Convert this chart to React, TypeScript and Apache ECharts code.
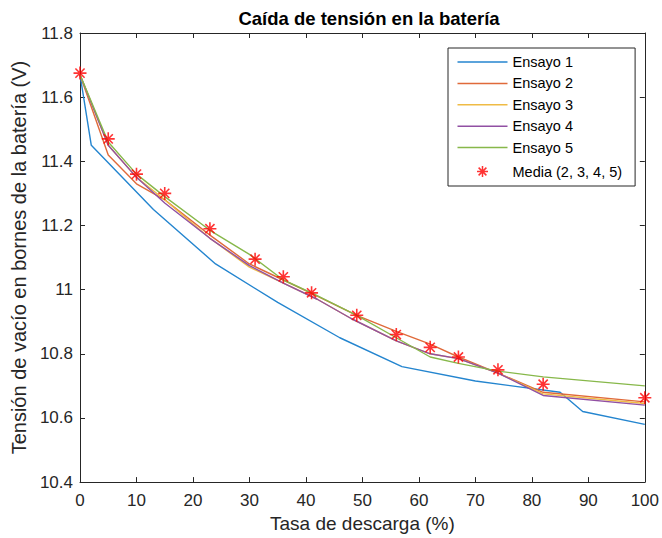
import React, { useEffect, useRef } from "react";
import * as echarts from "echarts";

const ensayo1: [number, number][] = [
  [0, 11.67], [2, 11.45], [13, 11.25], [24, 11.08], [35, 10.96], [46, 10.85],
  [57, 10.76], [70, 10.715], [85, 10.68], [89, 10.62], [100, 10.58],
];
const ensayo2: [number, number][] = [
  [0, 11.67], [5, 11.42], [10, 11.33], [15, 11.28], [23, 11.17], [30, 11.08],
  [36, 11.03], [42, 10.98], [49, 10.92], [56, 10.87], [62, 10.83], [67, 10.79],
  [74, 10.74], [82, 10.68], [100, 10.65],
];
const ensayo3: [number, number][] = [
  [0, 11.67], [5, 11.45], [10, 11.35], [15, 11.28], [23, 11.16], [30, 11.07],
  [36, 11.02], [42, 10.97], [48, 10.91], [56, 10.84], [62, 10.8], [67, 10.785],
  [74, 10.74], [82, 10.675], [100, 10.645],
];
const ensayo4: [number, number][] = [
  [0, 11.67], [5, 11.45], [10, 11.35], [15, 11.27], [23, 11.16], [30, 11.075],
  [36, 11.02], [42, 10.97], [48, 10.91], [56, 10.84], [62, 10.8], [67, 10.785],
  [74, 10.74], [82, 10.67], [100, 10.64],
];
const ensayo5: [number, number][] = [
  [0, 11.67], [5, 11.46], [10, 11.36], [15, 11.29], [23, 11.185], [30, 11.11],
  [36, 11.03], [41, 10.99], [49, 10.92], [56, 10.85], [62, 10.79], [67, 10.77],
  [74, 10.746], [82, 10.728], [100, 10.7],
];
const media: [number, number][] = [
  [0, 11.675], [5, 11.47], [10, 11.36], [15, 11.3], [23, 11.19], [31, 11.095],
  [36, 11.04], [41, 10.99], [49, 10.92], [56, 10.86], [62, 10.82], [67, 10.79],
  [74, 10.75], [82, 10.705], [100, 10.663],
];

const seriesNames = ["Ensayo 1", "Ensayo 2", "Ensayo 3", "Ensayo 4", "Ensayo 5"];
const seriesColors = ["#2485cf", "#e06a3a", "#efbb45", "#9150a3", "#87b84a"];
const seriesData = [ensayo1, ensayo2, ensayo3, ensayo4, ensayo5];
const mediaName = "Media (2, 3, 4, 5)";

const asterisk =
  "path://M0,-10L0,10M-10,0L10,0M-7.07,-7.07L7.07,7.07M-7.07,7.07L7.07,-7.07";
const asteriskLegend =
  "path://M-25,-7.5M25,7.5M0,-5.5L0,5.5M-5.5,0L5.5,0M-3.9,-3.9L3.9,3.9M-3.9,3.9L3.9,-3.9";
const lineLegend = "path://M0,0L50,0L50,1.5L0,1.5Z";

const FONT = "'Liberation Sans', Arial, Helvetica, sans-serif";
const TXT = "#262626";

export default function App() {
  const ref = useRef<HTMLDivElement>(null);
  useEffect(() => {
    if (!ref.current) return;
    const chart = echarts.init(ref.current, undefined, { renderer: "svg" });
    const axisCommon = {
      type: "value" as const,
      axisLine: { show: true, onZero: false, lineStyle: { color: TXT, width: 1 } },
      axisTick: { show: true, inside: true, length: 5, lineStyle: { color: TXT } },
      splitLine: { show: false },
    };
    const fmtY = (v: number) => String(parseFloat(v.toFixed(1)));
    chart.setOption({
      animation: false,
      backgroundColor: "#ffffff",
      textStyle: { fontFamily: FONT },
      title: {
        text: "Caída de tensión en la batería",
        left: 364,
        textAlign: "center",
        top: 4,
        textStyle: { fontFamily: FONT, fontSize: 18.5, fontWeight: "bold", color: "#000" },
      },
      grid: { left: 80, right: 14, top: 33, bottom: 55, containLabel: false },
      xAxis: [
        {
          ...axisCommon,
          position: "bottom",
          min: 0,
          max: 100,
          interval: 10,
          name: "Tasa de descarga (%)",
          nameLocation: "middle",
          nameGap: 29,
          nameTextStyle: { fontFamily: FONT, fontSize: 19, color: TXT },
          axisLabel: { fontFamily: FONT, fontSize: 17, color: TXT, margin: 10 },
        },
        {
          ...axisCommon,
          position: "top",
          min: 0,
          max: 100,
          interval: 10,
          axisLabel: { show: false },
        },
      ],
      yAxis: [
        {
          ...axisCommon,
          position: "left",
          min: 10.4,
          max: 11.8,
          interval: 0.2,
          name: "Tensión de vacío en bornes de la batería (V)",
          nameLocation: "middle",
          nameGap: 48,
          nameTextStyle: { fontFamily: FONT, fontSize: 20, color: TXT },
          axisLabel: { fontFamily: FONT, fontSize: 17, color: TXT, margin: 7, formatter: fmtY },
        },
        {
          ...axisCommon,
          position: "right",
          min: 10.4,
          max: 11.8,
          interval: 0.2,
          axisLabel: { show: false },
        },
      ],
      legend: {
        orient: "vertical",
        left: 448,
        top: 48,
        itemWidth: 50,
        itemHeight: 15,
        itemGap: 6.4,
        padding: [6.5, 13, 4.5, 7],
        borderColor: TXT,
        borderWidth: 1,
        borderRadius: 0,
        backgroundColor: "#fff",
        textStyle: { fontFamily: FONT, fontSize: 14.5, color: "#000", lineHeight: 15 },
        data: [
          ...seriesNames.map((n) => ({ name: n, icon: lineLegend })),
          {
            name: mediaName,
            icon: asteriskLegend,
            itemStyle: { color: "none", borderColor: "#FF0000", borderWidth: 1.5 },
          },
        ],
      },
      series: [
        ...seriesNames.map((n, i) => ({
          name: n,
          type: "line",
          data: seriesData[i],
          showSymbol: false,
          symbol: "none",
          color: seriesColors[i],
          lineStyle: { width: 1.4, color: seriesColors[i] },
          z: 2 + i,
        })),
        {
          name: mediaName,
          type: "scatter",
          data: media,
          symbol: asterisk,
          symbolSize: 13,
          color: "#FF0000",
          itemStyle: { color: "none", borderColor: "#FF0000", borderWidth: 1.6 },
          z: 10,
        },
      ],
    });
    return () => chart.dispose();
  }, []);
  return (
    <div
      ref={ref}
      style={{ position: "fixed", left: 0, top: 0, width: 662, height: 538 }}
    />
  );
}
